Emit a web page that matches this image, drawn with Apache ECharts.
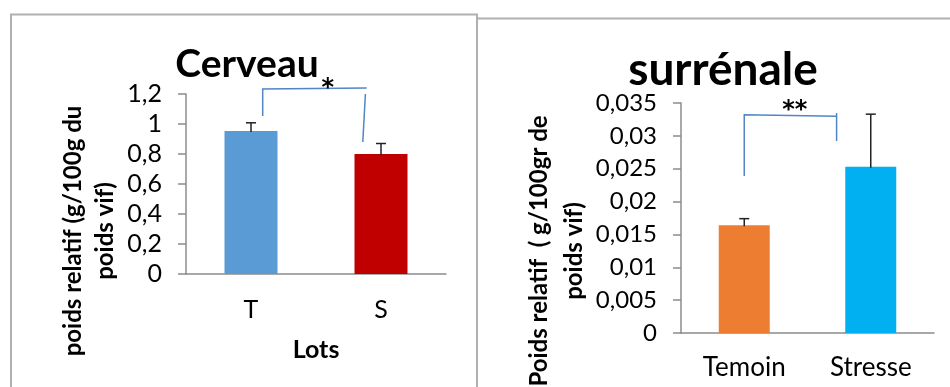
<!DOCTYPE html>
<html><head><meta charset="utf-8">
<script src="https://cdn.jsdelivr.net/npm/echarts@6/dist/echarts.min.js"></script>
<style>html,body{margin:0;padding:0;background:#fff}#c{width:950px;height:387px}</style>
</head><body><div id="c"></div>
<script>
// ---- data ----
const cerveauCats = ['T', 'S'];
const cerveauVals = [0.953, 0.80];
const cerveauErr = [0.055, 0.07];
const cerveauTicks = [0, 0.2, 0.4, 0.6, 0.8, 1, 1.2];
const cerveauSig = '*';
// bracket points: [category position, value]
const cerveauBracketA = [[0.09, 1.053], [0.09, 1.233], [0.89, 1.24]];
const cerveauBracketB = [[0.88, 1.2], [0.86, 0.88]];
const cerveauStar = [0.59, 1.273];

const surrCats = ['Temoin', 'Stresse'];
const surrVals = [0.0164, 0.0253];
const surrErr = [0.001, 0.008];
const surrTicks = [0, 0.005, 0.01, 0.015, 0.02, 0.025, 0.03, 0.035];
const surrSig = '**';
const surrBracketA = [[0.0, 0.0239], [0.0, 0.0332], [0.73, 0.0330]];
const surrBracketB = [[0.73, 0.03348], [0.73, 0.02922]];
const surrStar = [0.40, 0.0348];

const FONT = 'Lato, "Open Sans", sans-serif';
const fmt = v => String(+v.toFixed(4)).replace('.', ',');

function errRender(errs) {
  return function (params, api) {
    const i = api.value(0), v = api.value(1), e = errs[i];
    const p0 = api.coord([i, v]);
    const p1 = api.coord([i, v + e]);
    return { type: 'group', children: [
      { type: 'line', shape: { x1: p0[0], y1: p0[1] + 1, x2: p1[0], y2: p1[1] }, style: { stroke: '#222', lineWidth: 1.5 } },
      { type: 'line', shape: { x1: p1[0] - 5, y1: p1[1], x2: p1[0] + 5, y2: p1[1] }, style: { stroke: '#222', lineWidth: 1.5 } }
    ]};
  };
}
function bracketRender(a, b, star, sig) {
  return function (params, api) {
    const toPx = pt => {
      const c0 = api.coord([0, pt[1]]);
      const c1 = api.coord([1, pt[1]]);
      return [c0[0] + pt[0] * (c1[0] - c0[0]), c0[1]];
    };
    const pa = a.map(toPx), pb = b.map(toPx), ps = toPx(star);
    return { type: 'group', children: [
      { type: 'polyline', shape: { points: pa }, style: { stroke: '#4f86c6', lineWidth: 1.5, fill: null } },
      { type: 'polyline', shape: { points: pb }, style: { stroke: '#4f86c6', lineWidth: 1.5, fill: null } },
      { type: 'text', x: ps[0], y: ps[1] + 6, style: { text: sig, fill: '#000', font: 'bold 24px "DejaVu Sans"', align: 'center', verticalAlign: 'middle' } }
    ]};
  };
}

const axisLine = { lineStyle: { color: '#8c8c8c', width: 1.5 } };
const chart = echarts.init(document.getElementById('c'));
chart.setOption({
  animation: false,
  graphic: [
    { type: 'polyline', shape: { points: [[11, 400], [11, 14.5], [477, 14.5], [477, 400]] }, style: { stroke: '#b0b0b0', lineWidth: 2, fill: null } },
    { type: 'polyline', shape: { points: [[478, 18.5], [952, 18.5]] }, style: { stroke: '#b0b0b0', lineWidth: 2, fill: null } }
  ],
  title: [
    { text: 'Cerveau', left: 242, top: 40, textAlign: 'center', textStyle: { fontFamily: FONT, fontWeight: 'bold', fontSize: 39, color: '#000' } },
    { text: 'surrénale', left: 718, top: 42, textAlign: 'center', textStyle: { fontFamily: FONT, fontWeight: 'bold', fontSize: 46, color: '#000' } }
  ],
  grid: [
    { left: 186, top: 94, width: 260, height: 180, outerBoundsMode: 'none', containLabel: false },
    { left: 681, top: 103, width: 253, height: 230, outerBoundsMode: 'none', containLabel: false }
  ],
  xAxis: [
    { type: 'category', gridIndex: 0, data: cerveauCats, axisLine, axisTick: { length: 8, lineStyle: { color: '#8c8c8c', width: 1.5 } },
      axisLabel: { fontFamily: FONT, fontSize: 25, color: '#000', margin: 23 },
      name: 'Lots', nameLocation: 'middle', nameGap: 63, nameTextStyle: { fontFamily: FONT, fontWeight: 'bold', fontSize: 25, color: '#000' } },
    { type: 'category', gridIndex: 1, data: surrCats, axisLine, axisTick: { length: 8, lineStyle: { color: '#8c8c8c', width: 1.5 } },
      axisLabel: { fontFamily: FONT, fontSize: 26, color: '#000', margin: 22 } }
  ],
  yAxis: [
    { type: 'value', gridIndex: 0, min: 0, max: 1.2, interval: 0.2, splitLine: { show: false },
      axisLine: { show: true, lineStyle: { color: '#8c8c8c', width: 1.5 } }, axisTick: { show: true, length: 8, lineStyle: { color: '#8c8c8c', width: 1.5 } },
      axisLabel: { fontFamily: FONT, fontSize: 25, color: '#000', margin: 24, formatter: fmt },
      name: 'poids relatif (g/100g du\npoids vif)', nameLocation: 'middle', nameRotate: 90, nameGap: 65,
      nameTextStyle: { fontFamily: FONT, fontWeight: 'bold', fontSize: 24, color: '#000', lineHeight: 32, padding: [0, 94, 0, 0] } },
    { type: 'value', gridIndex: 1, min: 0, max: 0.035, interval: 0.005, splitLine: { show: false },
      axisLine: { show: true, lineStyle: { color: '#8c8c8c', width: 1.5 } }, axisTick: { show: true, length: 8, lineStyle: { color: '#8c8c8c', width: 1.5 } },
      axisLabel: { fontFamily: FONT, fontSize: 24, color: '#000', margin: 24, formatter: fmt },
      name: 'Poids relatif  ( g/100gr de\npoids vif)', nameLocation: 'middle', nameRotate: 90, nameGap: 89,
      nameTextStyle: { fontFamily: FONT, fontWeight: 'bold', fontSize: 24, color: '#000', lineHeight: 35, padding: [0, 66, 0, 0] } }
  ],
  series: [
    { type: 'bar', xAxisIndex: 0, yAxisIndex: 0, barWidth: 53,
      data: cerveauVals.map((v, i) => ({ value: v, itemStyle: { color: ['#5b9bd5', '#c00000'][i] } })) },
    { type: 'custom', xAxisIndex: 0, yAxisIndex: 0, renderItem: errRender(cerveauErr), data: cerveauVals.map((v, i) => [i, v]), z: 5 },
    { type: 'custom', xAxisIndex: 0, yAxisIndex: 0, renderItem: bracketRender(cerveauBracketA, cerveauBracketB, cerveauStar, cerveauSig), data: [[0, 0]], clip: false, z: 6 },
    { type: 'bar', xAxisIndex: 1, yAxisIndex: 1, barWidth: 51,
      data: surrVals.map((v, i) => ({ value: v, itemStyle: { color: ['#ed7d31', '#00b0f0'][i] } })) },
    { type: 'custom', xAxisIndex: 1, yAxisIndex: 1, renderItem: errRender(surrErr), data: surrVals.map((v, i) => [i, v]), z: 5 },
    { type: 'custom', xAxisIndex: 1, yAxisIndex: 1, renderItem: bracketRender(surrBracketA, surrBracketB, surrStar, surrSig), data: [[0, 0]], clip: false, z: 6 }
  ]
});
</script></body></html>
